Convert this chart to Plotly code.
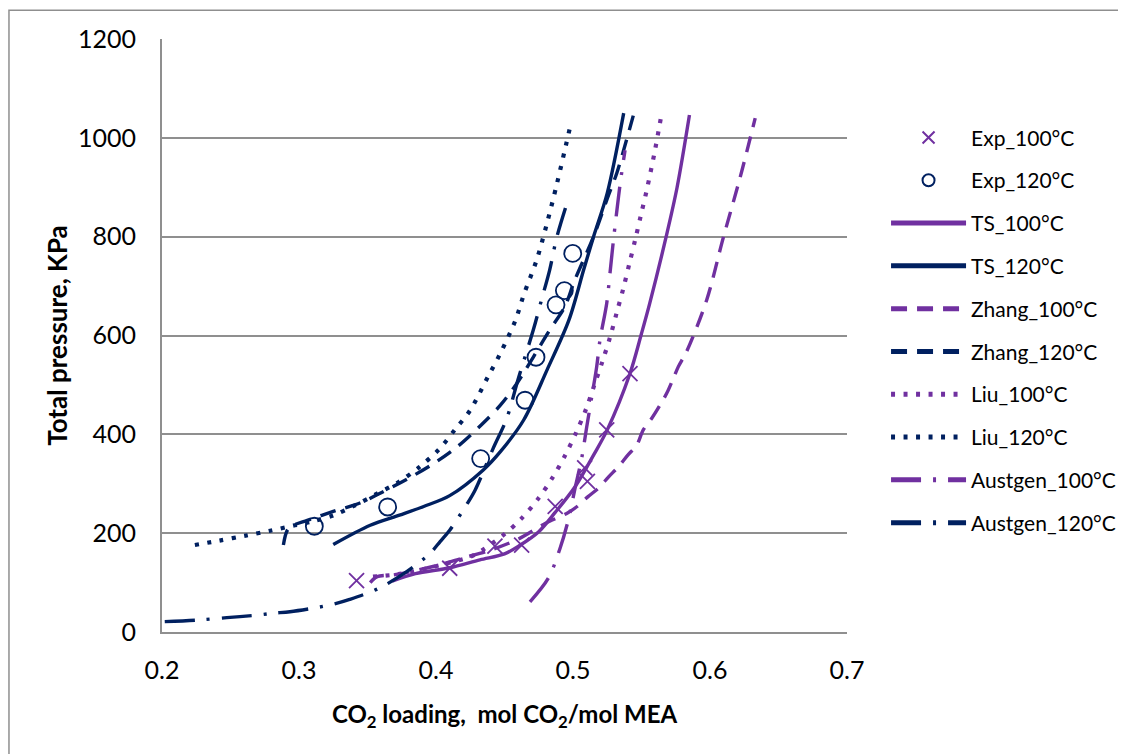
import plotly.graph_objects as go

PURPLE = "#7030A0"
NAVY = "#002060"

# ---------------- data ----------------
exp100_x = [0.342, 0.410, 0.443, 0.4625, 0.487, 0.5085, 0.5105, 0.5246, 0.5416]
exp100_y = [104, 129, 174, 176, 254, 332, 305, 409, 523]

exp120_x = [0.3112, 0.3647, 0.4326, 0.465, 0.473, 0.4876, 0.4937, 0.4998]
exp120_y = [214, 253, 351, 469, 556, 662, 691, 766]

ts100_x = [0.368, 0.385, 0.410, 0.432, 0.450, 0.461, 0.475, 0.487, 0.5015, 0.515,
           0.525, 0.5416, 0.550, 0.556, 0.568, 0.576, 0.585]
ts100_y = [103, 118, 130, 146, 158, 175, 203, 242, 294, 358, 409, 523, 604, 665,
           800, 900, 1046]

ts120_x = [0.325, 0.352, 0.374, 0.391, 0.410, 0.4345, 0.447, 0.464, 0.481, 0.497,
           0.508, 0.515, 0.525, 0.537]
ts120_y = [177, 216, 237, 254, 276, 328, 365, 429, 530, 631, 735, 800, 888, 1050]

zhang100_x = [0.352, 0.357, 0.370, 0.400, 0.420, 0.440, 0.460, 0.480, 0.4954, 0.503,
              0.511, 0.5185, 0.526, 0.533, 0.540, 0.5465, 0.5513, 0.5574, 0.5635,
              0.5684, 0.5732, 0.5769, 0.583, 0.5976, 0.6097, 0.622, 0.633]
zhang100_y = [100, 112, 116, 134, 150, 166, 188, 220, 240, 254, 274, 291, 314, 334,
              358, 378, 409, 432, 459, 483, 513, 537, 568, 672, 798, 920, 1040]

zhang120_x = [0.2886, 0.2915, 0.296, 0.306, 0.325, 0.3445, 0.360, 0.380, 0.4005, 0.416,
              0.433, 0.447, 0.459, 0.483, 0.494, 0.501, 0.515, 0.525, 0.532, 0.539,
              0.544]
zhang120_y = [176, 206, 216, 226, 244, 261, 282, 311, 345, 376, 419, 459, 503, 611,
              658, 710, 800, 877, 929, 995, 1045]

liu100_x = [0.354, 0.3725, 0.3907, 0.4066, 0.4248, 0.4334, 0.4491, 0.4625, 0.4747,
            0.4852, 0.4942, 0.5022, 0.5095, 0.5156, 0.5214, 0.527, 0.5319, 0.5367,
            0.5411, 0.5455, 0.5496, 0.5538, 0.5595, 0.5645]
liu100_y = [112, 117, 127, 138, 152, 165, 196, 230, 270, 313, 357, 403, 451, 500,
            547, 596, 646, 695, 745, 795, 844, 894, 970, 1046]

liu120_x = [0.224, 0.242, 0.261, 0.279, 0.297, 0.310, 0.325, 0.340, 0.357, 0.3725,
            0.388, 0.402, 0.414, 0.425, 0.438, 0.447, 0.458, 0.464, 0.4735, 0.481,
            0.488, 0.494, 0.4983]
liu120_y = [176, 185, 195, 205, 216, 224, 236, 255, 280, 303, 334, 369, 410, 449,
            517, 564, 631, 682, 753, 827, 904, 975, 1027]

austgen100_x = [0.4686, 0.482, 0.4905, 0.4966, 0.5015, 0.5063, 0.510, 0.5137, 0.5173,
                0.5197, 0.5246, 0.527, 0.5294, 0.5319, 0.5348, 0.538]
austgen100_y = [61, 109, 169, 227, 291, 351, 415, 476, 537, 591, 665, 726, 790, 850,
                915, 975]

austgen120_x = [0.202, 0.2253, 0.2473, 0.269, 0.281, 0.2934, 0.314, 0.326, 0.337,
                0.358, 0.3786, 0.3956, 0.403, 0.410, 0.4224, 0.4285, 0.4418, 0.4516,
                0.4601, 0.471, 0.477, 0.483, 0.488, 0.4945]
austgen120_y = [21, 24, 29, 34, 38, 41, 50, 57, 66, 88, 122, 159, 183, 206, 258, 287,
                372, 432, 513, 611, 672, 733, 797, 858]

x_ticks = [0.2, 0.3, 0.4, 0.5, 0.6, 0.7]
y_ticks = [0, 200, 400, 600, 800, 1000, 1200]

FONT = "Lato"

fig = go.Figure()

def add_line(name, xs, ys, color, dash, group, width=3.4):
    fig.add_trace(go.Scatter(
        x=xs, y=ys, mode="lines", name=name, legendgroup=group,
        line=dict(color=color, width=width, dash=dash, shape="spline", smoothing=0.9),
    ))

fig.add_trace(go.Scatter(
    x=exp100_x, y=exp100_y, mode="markers", name="Exp_100°C", legendgroup="g1",
    marker=dict(symbol="x-thin", size=15, color=PURPLE,
                line=dict(color=PURPLE, width=1.8)),
))
fig.add_trace(go.Scatter(
    x=exp120_x, y=exp120_y, mode="markers", name="Exp_120°C", legendgroup="g2",
    marker=dict(symbol="circle-open", size=17, color=NAVY,
                line=dict(color=NAVY, width=1.8)),
))

add_line("TS_100°C", ts100_x, ts100_y, PURPLE, "solid", "g3")
add_line("TS_120°C", ts120_x, ts120_y, NAVY, "solid", "g4")
add_line("Zhang_100°C", zhang100_x, zhang100_y, PURPLE, "16px,10px", "g5")
add_line("Zhang_120°C", zhang120_x, zhang120_y, NAVY, "16px,10px", "g6")
add_line("Liu_100°C", liu100_x, liu100_y, PURPLE, "4px,8.5px", "g7", 4.2)
add_line("Liu_120°C", liu120_x, liu120_y, NAVY, "4px,8.5px", "g8", 4.2)
add_line("Austgen_100°C", austgen100_x, austgen100_y, PURPLE, "30px,12px,3px,12px", "g9")
add_line("Austgen_120°C", austgen120_x, austgen120_y, NAVY, "30px,12px,3px,12px", "g10")

GRID = "#8f8f8f"

# the page body has an 8px margin, so the plot area (162..847, 39..632) is offset
fig.update_layout(
    width=1126, height=754,
    margin=dict(l=154, r=287, t=31, b=130),
    paper_bgcolor="white", plot_bgcolor="white",
    font=dict(family=FONT, color="black"),
    showlegend=True,
    legend=dict(
        x=1.057, y=0.868, xanchor="left", yanchor="top",
        font=dict(family=FONT, size=21, color="black"),
        itemwidth=75, tracegroupgap=12.5, bgcolor="rgba(0,0,0,0)",
        itemsizing="constant",
    ),
    xaxis=dict(
        range=[0.2, 0.7], tickvals=x_ticks, ticktext=[f"{v:g}" for v in x_ticks],
        showgrid=False, zeroline=False, showline=True, linecolor=GRID, linewidth=2,
        ticks="", tickfont=dict(family=FONT, size=25, color="black"),
        ticklabelstandoff=15,
        title=dict(text="<b>CO<sub>2</sub> loading,  mol CO<sub>2</sub>/mol MEA</b>",
                   font=dict(family=FONT, size=24, color="black"), standoff=23),
    ),
    yaxis=dict(
        range=[0, 1200], tickvals=y_ticks,
        showgrid=True, gridcolor=GRID, gridwidth=1.5, zeroline=False,
        showline=True, linecolor=GRID, linewidth=2,
        ticks="", tickfont=dict(family=FONT, size=25, color="black"),
        ticklabelstandoff=19,
        title=dict(text="<b>Total pressure, KPa</b>",
                   font=dict(family=FONT, size=26, color="black"), standoff=3),
    ),
    shapes=[dict(type="rect", xref="paper", yref="paper",
                 x0=-0.2234, x1=1.45, y0=-0.25, y1=1.0485,
                 line=dict(color=GRID, width=1.5), fillcolor="rgba(0,0,0,0)",
                 layer="below")],
)

fig.write_html("out.html")
